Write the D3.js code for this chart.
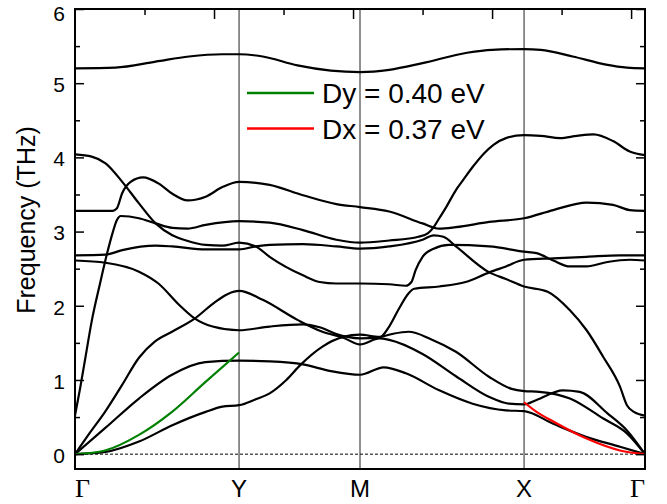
<!DOCTYPE html>
<html>
<head>
<meta charset="utf-8">
<script src="https://cdn.jsdelivr.net/npm/d3@7"></script>
<style>
body{margin:0;background:#fff;}
svg{display:block;font-family:"Liberation Sans",Arial,sans-serif;}
</style>
</head>
<body>
<svg id="chart" width="667" height="504"></svg>
<script>
// high-symmetry points
const symLabels = ["Γ","Y","M","X","Γ"];
const symPos = [0, 1.18, 2.05, 3.23, 4.10];
const yTicks = [0,1,2,3,4,5,6];
const yMinor = [0.5,1.5,2.5,3.5,4.5,5.5];
const topMajor = [1,2,3,4];
const topMinor = [0.5,1.5,2.5,3.5];

// phonon bands [path coordinate, frequency THz]
const bandTop = [[0,5.20],[0.29,5.21],[0.58,5.29],[0.82,5.36],[1.06,5.39],[1.18,5.39],[1.35,5.36],[1.60,5.24],[1.84,5.17],[2.05,5.15],[2.26,5.18],[2.50,5.27],[2.82,5.41],[3.0,5.45],[3.23,5.46],[3.35,5.45],[3.58,5.36],[3.82,5.25],[3.97,5.21],[4.10,5.20]];
const bandA = [[0,3.28],[0.15,3.28],[0.27,3.28],[0.30,3.31],[0.34,3.52],[0.40,3.67],[0.49,3.73],[0.60,3.65],[0.70,3.51],[0.81,3.42],[0.94,3.47],[1.06,3.60],[1.18,3.67],[1.40,3.63],[1.64,3.49],[1.88,3.37],[2.05,3.33],[2.26,3.27],[2.50,3.11],[2.62,3.04],[2.74,3.06],[2.98,3.13],[3.23,3.18],[3.44,3.29],[3.68,3.39],[3.87,3.36],[3.99,3.29],[4.10,3.28]];
const bandB = [[0,0.52],[0.01,0.62],[0.036,0.88],[0.072,1.27],[0.12,1.79],[0.18,2.30],[0.23,2.70],[0.27,2.98],[0.30,3.15],[0.33,3.21],[0.46,3.18],[0.58,3.11],[0.70,3.05],[0.81,3.04],[0.94,3.09],[1.18,3.14],[1.40,3.12],[1.64,3.02],[1.88,2.89],[2.05,2.85],[2.26,2.88],[2.47,2.93],[2.54,2.98],[2.58,3.06],[2.62,3.18],[2.67,3.33],[2.74,3.56],[2.79,3.69],[2.86,3.87],[2.94,4.05],[3.01,4.17],[3.10,4.26],[3.23,4.30],[3.35,4.29],[3.49,4.26],[3.61,4.29],[3.73,4.31],[3.87,4.22],[3.99,4.08],[4.10,4.03]];
const bandE = [[0,4.04],[0.12,4.01],[0.22,3.92],[0.34,3.67],[0.46,3.38],[0.58,3.11],[0.70,2.95],[0.80,2.88],[0.94,2.82],[1.06,2.81],[1.18,2.85],[1.30,2.80],[1.40,2.66],[1.64,2.41],[1.76,2.32],[1.88,2.30],[2.05,2.30],[2.26,2.29],[2.38,2.27],[2.42,2.32],[2.45,2.48],[2.50,2.66],[2.58,2.77],[2.69,2.82],[2.98,2.80],[3.23,2.73],[3.32,2.71],[3.44,2.61],[3.56,2.53],[3.68,2.53],[3.83,2.59],[3.99,2.62],[4.10,2.61]];
const bandC = [[0,2.68],[0.22,2.69],[0.34,2.75],[0.58,2.81],[0.70,2.80],[0.94,2.76],[1.18,2.76],[1.30,2.80],[1.40,2.82],[1.64,2.83],[1.88,2.80],[2.05,2.77],[2.26,2.80],[2.50,2.89],[2.58,2.95],[2.65,2.93],[2.74,2.80],[2.98,2.45],[3.10,2.36],[3.23,2.26],[3.40,2.19],[3.56,1.94],[3.68,1.67],[3.80,1.31],[3.92,0.91],[3.97,0.66],[4.02,0.57],[4.10,0.52]];
const bandD = [[0,2.61],[0.22,2.58],[0.46,2.46],[0.60,2.30],[0.75,2.01],[0.86,1.83],[0.99,1.72],[1.18,1.67],[1.40,1.72],[1.64,1.75],[1.76,1.71],[1.88,1.62],[1.96,1.58],[2.05,1.56],[2.19,1.57],[2.26,1.72],[2.33,1.96],[2.40,2.17],[2.44,2.23],[2.62,2.26],[2.81,2.32],[2.98,2.45],[3.10,2.53],[3.23,2.62],[3.44,2.64],[3.68,2.66],[3.92,2.68],[4.10,2.68]];
const bandTA1 = [[0,0],[0.22,0.03],[0.46,0.17],[0.70,0.39],[0.94,0.57],[1.06,0.64],[1.18,0.66],[1.30,0.74],[1.40,0.82],[1.52,1.0],[1.62,1.20],[1.78,1.45],[1.93,1.58],[2.05,1.61],[2.19,1.58],[2.28,1.62],[2.40,1.65],[2.56,1.55],[2.74,1.38],[2.98,1.04],[3.14,0.88],[3.23,0.85],[3.34,0.84],[3.56,0.75],[3.80,0.48],[3.97,0.28],[4.10,0]];
const bandLA = [[0,0],[0.10,0.27],[0.216,0.57],[0.338,0.93],[0.46,1.30],[0.576,1.52],[0.698,1.65],[0.863,1.83],[1.007,2.05],[1.10,2.16],[1.18,2.20],[1.35,2.08],[1.60,1.81],[1.78,1.65],[1.93,1.57],[2.05,1.48],[2.19,1.56],[2.26,1.54],[2.50,1.35],[2.74,1.05],[2.98,0.77],[3.12,0.68],[3.23,0.67],[3.32,0.73],[3.51,0.86],[3.63,0.84],[3.83,0.55],[3.97,0.32],[4.10,0]];
const bandTA2 = [[0,0],[0.216,0.35],[0.46,0.75],[0.698,1.07],[0.937,1.24],[1.18,1.26],[1.40,1.25],[1.64,1.21],[1.84,1.12],[2.05,1.07],[2.22,1.17],[2.38,1.09],[2.62,0.86],[2.86,0.68],[3.10,0.59],[3.23,0.58],[3.44,0.41],[3.68,0.23],[3.92,0.10],[4.10,0]];
// fits
const fitDy = [[0,0],[0.216,0.05],[0.46,0.26],[0.698,0.57],[0.937,0.97],[1.18,1.37]];
const fitDx = [[3.23,0.70],[3.32,0.57],[3.44,0.44],[3.68,0.21],[3.92,0.05],[4.10,0]];
const legendLabels = ["Dy = 0.40 eV","Dx = 0.37 eV"];
const legendColors = ["#008000","#ff0000"];

const bands = [bandTop,bandA,bandB,bandE,bandC,bandD,bandTA1,bandLA,bandTA2];

const svg = d3.select("#chart");
const L=75, R=645, T=9, B=469;
const x = d3.scaleLinear().domain([0,4.10]).range([L,R]);
const y = d3.scaleLinear().domain([-0.2,6]).range([B,T]);

const plot = svg.append("g");
svg.append("clipPath").attr("id","clp").append("rect")
  .attr("x",L).attr("y",T).attr("width",R-L).attr("height",B-T);

// dashed zero line
plot.append("line").attr("x1",L).attr("x2",R).attr("y1",y(0)).attr("y2",y(0))
  .attr("stroke","#000").attr("stroke-width",1).attr("stroke-dasharray","3,2");

// vertical symmetry lines
plot.selectAll("line.sym").data(symPos.slice(1,-1)).enter().append("line")
  .attr("class","sym").attr("x1",d=>x(d)).attr("x2",d=>x(d)).attr("y1",T).attr("y2",B)
  .attr("stroke","#222").attr("stroke-width",1);

const line = d3.line().x(d=>x(d[0])).y(d=>y(d[1])).curve(d3.curveMonotoneX);
const g = plot.append("g").attr("clip-path","url(#clp)");
g.selectAll("path.band").data(bands).enter().append("path").attr("class","band")
  .attr("d",line).attr("fill","none").attr("stroke","#000").attr("stroke-width",2.2);
g.append("path").attr("d",line(fitDy)).attr("fill","none").attr("stroke",legendColors[0]).attr("stroke-width",2.2);
g.append("path").attr("d",line(fitDx)).attr("fill","none").attr("stroke",legendColors[1]).attr("stroke-width",2.2);

// axes ticks
function tickStyle(sel){ sel.select(".domain").remove(); sel.selectAll("line").attr("stroke","#000").attr("stroke-width",1.5); }
svg.append("g").attr("transform",`translate(${L},0)`)
  .call(d3.axisLeft(y).tickValues(yTicks).tickSize(-9).tickPadding(10).tickFormat(d3.format("d")))
  .call(tickStyle)
  .call(s=>s.selectAll("text").attr("font-size",21).attr("dy","0.4em")
     .attr("font-family",'"Liberation Sans",Arial,sans-serif').attr("fill","#000"))
  .call(s=>s.selectAll(".tick").filter(d=>d===6).select("text").attr("dy","0.55em"));
svg.append("g").attr("transform",`translate(${L},0)`)
  .call(d3.axisLeft(y).tickValues(yMinor).tickSize(-5).tickFormat("")).call(tickStyle);
svg.append("g").attr("transform",`translate(${R},0)`)
  .call(d3.axisRight(y).tickValues(yTicks).tickSize(-9).tickFormat("")).call(tickStyle);
svg.append("g").attr("transform",`translate(${R},0)`)
  .call(d3.axisRight(y).tickValues(yMinor).tickSize(-5).tickFormat("")).call(tickStyle);
svg.append("g").attr("transform",`translate(0,${T})`)
  .call(d3.axisTop(x).tickValues(topMajor).tickSize(-10).tickFormat("")).call(tickStyle);
svg.append("g").attr("transform",`translate(0,${T})`)
  .call(d3.axisTop(x).tickValues(topMinor).tickSize(-6).tickFormat("")).call(tickStyle);

// frame
svg.append("rect").attr("x",L).attr("y",T).attr("width",R-L).attr("height",B-T)
  .attr("fill","none").attr("stroke","#000").attr("stroke-width",2);

// bottom labels
svg.selectAll("text.sym").data(symLabels).enter().append("text").attr("class","sym")
  .attr("x",(d,i)=>x(symPos[i]))
  .attr("y",497)
  .attr("text-anchor",(d,i)=> i===0 ? "start" : (i===symLabels.length-1 ? "end" : "middle"))
  .attr("font-family",d=> d==="Γ" ? '"Liberation Serif","Times New Roman",serif' : '"Liberation Sans",Arial,sans-serif')
  .attr("font-size",d=> d==="Γ" ? 26 : 24)
  .attr("fill","#000")
  .text(d=>d);

// y label
svg.append("text").attr("transform","translate(35,220) rotate(-90)")
  .attr("text-anchor","middle").attr("font-size",25).attr("fill","#000")
  .text("Frequency (THz)");

// legend
const lg = svg.append("g");
legendLabels.forEach((t,i)=>{
  const yy = 93 + i*35.5;
  lg.append("line").attr("x1",247).attr("x2",314).attr("y1",yy).attr("y2",yy)
    .attr("stroke",legendColors[i]).attr("stroke-width",2.5);
  lg.append("text").attr("x",322).attr("y",yy+10).attr("font-size",28).attr("fill","#000").text(t);
});
</script>
</body>
</html>
